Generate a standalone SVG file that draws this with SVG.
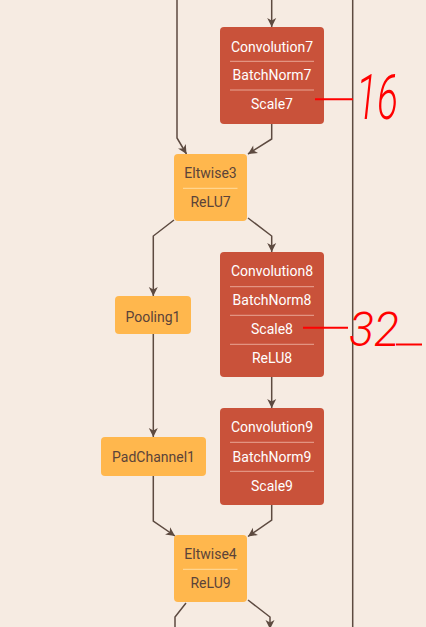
<svg xmlns="http://www.w3.org/2000/svg" width="426" height="627" viewBox="0 0 426 627">
<defs>
<style>
.bg{fill:#F6EBE2}
.red{fill:#C9523A}
.org{fill:#FFB74D}
.tw{font-family:Roboto,"Liberation Sans",sans-serif;font-size:14px;font-weight:400;fill:#FFFFFF;text-anchor:middle}
.td{font-family:Roboto,"Liberation Sans",sans-serif;font-size:14px;font-weight:400;fill:#5B4339;text-anchor:middle}
.sw{stroke:#E9A594;stroke-width:1}
.sd{stroke:#FFDCA0;stroke-width:1}
.edge{fill:none;stroke:#5D4A40;stroke-width:1.5}
.ann{stroke:#FF0000;stroke-width:2;fill:none}
.hand{font-family:Roboto,Lato,"Liberation Sans",sans-serif;font-weight:300;font-style:italic;fill:#FF0000}
</style>
<marker id="arr" markerUnits="userSpaceOnUse" markerWidth="12" markerHeight="12" viewBox="-10 -6 12 12" refX="0" refY="0" orient="auto">
<path d="M-9,-4.5 L0,0 L-9,4.5 L-6.5,0 Z" fill="#5D4A40"/>
</marker>
</defs>
<rect class="bg" x="0" y="0" width="426" height="627"/>
<line x1="352.7" y1="0" x2="352.7" y2="627" stroke="#5D4A40" stroke-width="1.5"/>
<g id="edges">
<path class="edge" d="M177,0 V138 L186.5,154" marker-end="url(#arr)"/>
<path class="edge" d="M271.7,0 V27" marker-end="url(#arr)"/>
<path class="edge" d="M271.7,124 V139 L248,154" marker-end="url(#arr)"/>
<path class="edge" d="M174,220 L153.3,236 V296" marker-end="url(#arr)"/>
<path class="edge" d="M248,218 L271.7,236 V252" marker-end="url(#arr)"/>
<path class="edge" d="M153.3,334 V437" marker-end="url(#arr)"/>
<path class="edge" d="M271.7,377 V408" marker-end="url(#arr)"/>
<path class="edge" d="M153.3,476 V521 L175,536" marker-end="url(#arr)"/>
<path class="edge" d="M271.7,505 V520 L248,536.5" marker-end="url(#arr)"/>
<path class="edge" d="M186,603 L175,617 V627"/>
<path class="edge" d="M248,600 L270,617 V629" marker-end="url(#arr)"/>
</g>
<g id="conv7">
<rect class="red" x="220" y="27" width="104" height="97" rx="4"/>
<line class="sw" x1="230" y1="61.3" x2="314" y2="61.3"/>
<line class="sw" x1="230" y1="90" x2="314" y2="90"/>
<text class="tw" x="272" y="51.5">Convolution7</text>
<text class="tw" x="272" y="80.2">BatchNorm7</text>
<text class="tw" x="272" y="109">Scale7</text>
</g>
<g id="eltwise3">
<rect class="org" x="174" y="154" width="73" height="67" rx="4"/>
<line class="sd" x1="183" y1="188.3" x2="237.5" y2="188.3"/>
<text class="td" x="210.5" y="178">Eltwise3</text>
<text class="td" x="210.5" y="207">ReLU7</text>
</g>
<g id="conv8">
<rect class="red" x="220" y="252" width="104" height="125" rx="4"/>
<line class="sw" x1="230" y1="286.7" x2="314" y2="286.7"/>
<line class="sw" x1="230" y1="315.3" x2="314" y2="315.3"/>
<line class="sw" x1="230" y1="344.3" x2="314" y2="344.3"/>
<text class="tw" x="272" y="276.2">Convolution8</text>
<text class="tw" x="272" y="305.3">BatchNorm8</text>
<text class="tw" x="272" y="334">Scale8</text>
<text class="tw" x="272" y="363">ReLU8</text>
</g>
<g id="pooling1">
<rect class="org" x="115" y="296" width="76" height="38" rx="4"/>
<text class="td" x="153" y="321.5">Pooling1</text>
</g>
<g id="conv9">
<rect class="red" x="220" y="408" width="104" height="97" rx="4"/>
<line class="sw" x1="230" y1="442.3" x2="314" y2="442.3"/>
<line class="sw" x1="230" y1="471.3" x2="314" y2="471.3"/>
<text class="tw" x="272" y="432">Convolution9</text>
<text class="tw" x="272" y="461.5">BatchNorm9</text>
<text class="tw" x="272" y="490.5">Scale9</text>
</g>
<g id="padchannel1">
<rect class="org" x="101" y="437" width="105" height="39" rx="4"/>
<text class="td" x="153.5" y="462">PadChannel1</text>
</g>
<g id="eltwise4">
<rect class="org" x="174" y="535" width="73" height="67" rx="4"/>
<line class="sd" x1="183" y1="569.3" x2="237.5" y2="569.3"/>
<text class="td" x="210.5" y="559">Eltwise4</text>
<text class="td" x="210.5" y="588">ReLU9</text>
</g>
<g id="annotations">
<line class="ann" x1="315" y1="99.3" x2="353" y2="99.3"/>
<text class="hand" x="356" y="119" font-size="62" textLength="42" lengthAdjust="spacingAndGlyphs">16</text>
<line class="ann" x1="303" y1="327.7" x2="348" y2="327.7"/>
<text class="hand" x="349" y="346" font-size="48" textLength="50" lengthAdjust="spacingAndGlyphs">32</text>
<line class="ann" x1="396" y1="344.5" x2="422" y2="344.5"/>
</g>
</svg>
